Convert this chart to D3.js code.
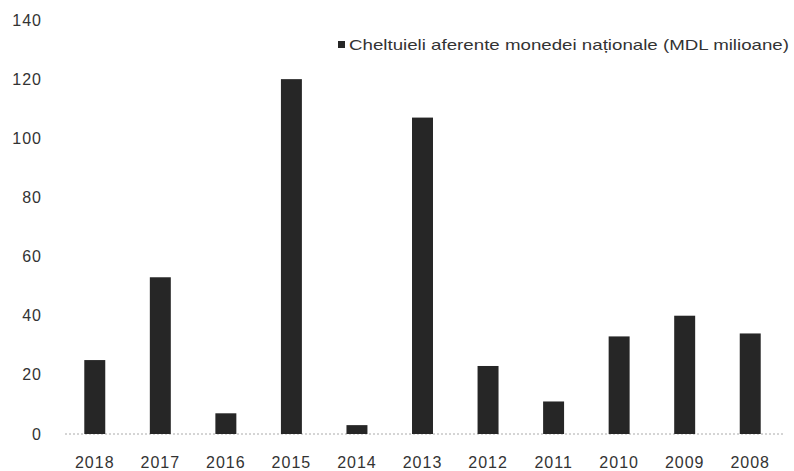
<!DOCTYPE html>
<html>
<head>
<meta charset="utf-8">
<script src="https://cdn.jsdelivr.net/npm/d3@7"></script>
<style>
  body { margin: 0; background: #fff; }
  svg text { font-family: "Liberation Sans", Arial, sans-serif; }
</style>
</head>
<body>
<div id="chart"></div>
<script>
// Data
const years = ["2018", "2017", "2016", "2015", "2014", "2013", "2012", "2011", "2010", "2009", "2008"];
const values = [25, 53, 7, 120, 3, 107, 23, 11, 33, 40, 34];
const yTicks = [0, 20, 40, 60, 80, 100, 120, 140];
const seriesName = "Cheltuieli aferente monedei naționale (MDL milioane)";

const width = 794;
const height = 471;
const margin = { top: 20, right: 11, bottom: 37, left: 62 };

const svg = d3.select("#chart").append("svg")
  .attr("width", width)
  .attr("height", height);

// Scales
const x = d3.scaleBand()
  .domain(years)
  .range([margin.left, width - margin.right])
  .paddingInner(0.68)
  .paddingOuter(0.34);

const y = d3.scaleLinear()
  .domain([0, 140])
  .range([height - margin.bottom, margin.top]);

// Y axis labels (no axis line)
svg.append("g")
  .selectAll("text")
  .data(yTicks)
  .join("text")
  .attr("x", 42)
  .attr("y", d => y(d))
  .attr("dy", "0.35em")
  .attr("text-anchor", "end")
  .attr("font-size", 16)
  .attr("letter-spacing", 1)
  .attr("fill", "#333")
  .text(d => d);

// Baseline, dotted grey
svg.append("line")
  .attr("x1", margin.left + 3)
  .attr("x2", width - margin.right)
  .attr("y1", y(0))
  .attr("y2", y(0))
  .attr("stroke", "#aaa")
  .attr("stroke-width", 1)
  .attr("stroke-dasharray", "2,2");

// Bars
svg.append("g")
  .selectAll("rect")
  .data(values)
  .join("rect")
  .attr("x", (d, i) => x(years[i]))
  .attr("y", d => y(d))
  .attr("width", x.bandwidth())
  .attr("height", d => y(0) - y(d))
  .attr("fill", "#262626");

// X labels
svg.append("g")
  .selectAll("text")
  .data(years)
  .join("text")
  .attr("x", d => x(d) + x.bandwidth() / 2)
  .attr("y", 462)
  .attr("dy", "0.35em")
  .attr("text-anchor", "middle")
  .attr("font-size", 16)
  .attr("letter-spacing", 1)
  .attr("fill", "#333")
  .text(d => d);

// Legend
const legend = svg.append("g");
legend.append("rect")
  .attr("x", 338)
  .attr("y", 41)
  .attr("width", 7)
  .attr("height", 7)
  .attr("fill", "#262626");
legend.append("text")
  .attr("x", 349)
  .attr("y", 45)
  .attr("dy", "0.35em")
  .attr("font-size", 15)
  .attr("fill", "#333")
  .attr("textLength", 440)
  .attr("lengthAdjust", "spacingAndGlyphs")
  .text(seriesName);
</script>
</body>
</html>
